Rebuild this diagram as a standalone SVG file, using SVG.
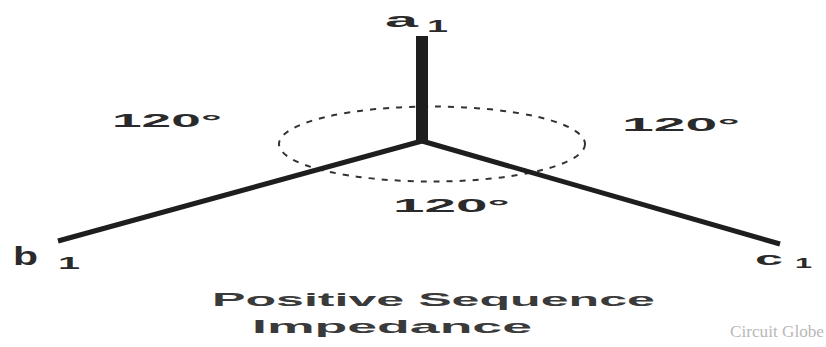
<svg xmlns="http://www.w3.org/2000/svg" width="826" height="347" viewBox="0 0 826 347">
<style>
.lbl{font-family:"Liberation Sans","DejaVu Sans",sans-serif;font-weight:bold;fill:#2a2a2a}
.ang{font-size:18px}
.title{font-size:19px;fill:#3a3a3a}
.ph{stroke:#1e1e1e;stroke-linecap:butt;fill:none}
</style>
<rect width="826" height="347" fill="#ffffff"/>
<g id="connectors">
<ellipse cx="432" cy="144" rx="153" ry="37.5" fill="none" stroke="#333" stroke-width="2" stroke-dasharray="6 7"/>
<line class="ph" x1="422" y1="36" x2="422" y2="142" stroke-width="12"/>
<line class="ph" x1="422" y1="141" x2="58" y2="241" stroke-width="5"/>
<line class="ph" x1="422" y1="141" x2="780" y2="244" stroke-width="5"/>
</g>
<g id="a1">
<text class="lbl" x="385" y="27" font-size="20" textLength="33" lengthAdjust="spacingAndGlyphs">a</text>
<text class="lbl" x="427" y="32" font-size="16" textLength="21" lengthAdjust="spacingAndGlyphs">1</text>
</g>
<g id="b1">
<text class="lbl" x="13" y="265" font-size="25" textLength="25" lengthAdjust="spacingAndGlyphs">b</text>
<text class="lbl" x="58" y="269" font-size="16" textLength="22" lengthAdjust="spacingAndGlyphs">1</text>
</g>
<g id="c1">
<text class="lbl" x="755" y="265" font-size="19" textLength="28" lengthAdjust="spacingAndGlyphs">c</text>
<text class="lbl" x="795" y="268" font-size="15" textLength="17" lengthAdjust="spacingAndGlyphs">1</text>
</g>
<g id="angles">
<text class="lbl ang" x="112" y="127" textLength="110" lengthAdjust="spacingAndGlyphs">120°</text>
<text class="lbl ang" x="622" y="131" textLength="118" lengthAdjust="spacingAndGlyphs">120°</text>
<text class="lbl ang" x="393" y="212" textLength="117" lengthAdjust="spacingAndGlyphs">120°</text>
</g>
<g id="title">
<text class="lbl title" x="212" y="306" textLength="443" lengthAdjust="spacingAndGlyphs">Positive Sequence</text>
<text class="lbl title" x="252" y="333" textLength="280" lengthAdjust="spacingAndGlyphs">Impedance</text>
</g>
<g id="watermark">
<text x="730" y="337" font-family="Liberation Serif, serif" font-size="17" fill="#b8b8b8" textLength="94" lengthAdjust="spacingAndGlyphs">Circuit Globe</text>
</g>
</svg>
